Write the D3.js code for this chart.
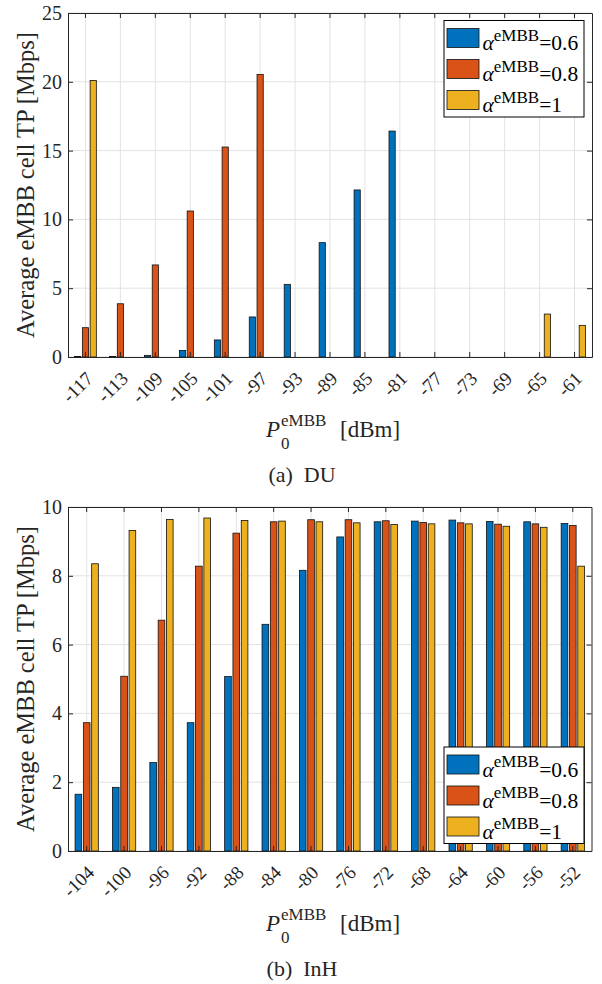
<!DOCTYPE html>
<html>
<head>
<meta charset="utf-8">
<script src="https://cdn.jsdelivr.net/npm/d3@7"></script>
<style>
  body { margin: 0; background: #fff; }
  #fig text { font-family: "Liberation Serif", "Times New Roman", Times, serif; fill: #262626; }
</style>
</head>
<body>
<svg id="fig" width="602" height="984"></svg>
<script>
// (a) DU
const duLevels = [-117, -113, -109, -105, -101, -97, -93, -89, -85, -81, -77, -73, -69, -65, -61];
const duAlpha06 = [0.03, 0.03, 0.12, 0.48, 1.24, 2.91, 5.28, 8.31, 12.14, 16.42, 0, 0, 0, 0, 0];
const duAlpha08 = [2.13, 3.87, 6.69, 10.61, 15.26, 20.54, 0, 0, 0, 0, 0, 0, 0, 0, 0];
const duAlpha1  = [20.1, 0, 0, 0, 0, 0, 0, 0, 0, 0, 0, 0, 0, 3.12, 2.30];
const duTicks = [0, 5, 10, 15, 20, 25];

// (b) InH
const inhLevels = [-104, -100, -96, -92, -88, -84, -80, -76, -72, -68, -64, -60, -56, -52];
const inhAlpha06 = [1.65, 1.85, 2.57, 3.73, 5.07, 6.59, 8.16, 9.13, 9.57, 9.59, 9.62, 9.58, 9.57, 9.52];
const inhAlpha08 = [3.73, 5.08, 6.71, 8.28, 9.24, 9.57, 9.63, 9.63, 9.60, 9.55, 9.54, 9.50, 9.51, 9.46];
const inhAlpha1  = [8.35, 9.32, 9.64, 9.68, 9.61, 9.59, 9.57, 9.54, 9.49, 9.51, 9.51, 9.44, 9.41, 8.28];
const inhTicks = [0, 2, 4, 6, 8, 10];

const alphaLabels = ["0.6", "0.8", "1"];
const colors = ["#0072BD", "#D95319", "#EDB120"];

const svg = d3.select("#fig");
const axisColor = "#262626";

function drawPanel(cfg) {
  const g = svg.append("g");
  const x = d3.scaleBand().domain(cfg.levels).range([cfg.left, cfg.right]);
  const step = x.step();
  // grouped bars like matlab: group width 2/3 of the slot, bar width 0.8
  const inner = d3.scaleBand().domain(d3.range(cfg.series.length))
    .range([-step / 3, step / 3]).paddingInner(0.2).paddingOuter(0.1);
  const y = d3.scaleLinear().domain([0, cfg.yMax]).range([cfg.bottom, cfg.top]);
  const cx = d => x(d) + x.bandwidth() / 2;

  // grid
  g.append("g").selectAll("line").data(cfg.levels).join("line")
    .attr("x1", cx).attr("x2", cx).attr("y1", cfg.top).attr("y2", cfg.bottom)
    .attr("stroke", "#e3e3e3").attr("stroke-width", 1);
  g.append("g").selectAll("line").data(cfg.yTicks).join("line")
    .attr("x1", cfg.left).attr("x2", cfg.right).attr("y1", d => y(d)).attr("y2", d => y(d))
    .attr("stroke", "#e3e3e3").attr("stroke-width", 1);

  // bars
  cfg.series.forEach((vals, i) => {
    const rows = vals.map((v, k) => ({ lvl: cfg.levels[k], v })).filter(d => d.v > 0);
    g.append("g").selectAll("rect").data(rows).join("rect")
      .attr("x", d => cx(d.lvl) + inner(i))
      .attr("width", inner.bandwidth())
      .attr("y", d => y(d.v))
      .attr("height", d => y(0) - y(d.v))
      .attr("fill", colors[i])
      .attr("stroke", "#111").attr("stroke-width", 0.8);
  });

  // axes (box with inward ticks)
  const styleAxis = a => a.attr("color", axisColor).attr("font-family", null).attr("font-size", null);
  g.append("g").attr("transform", `translate(0,${cfg.bottom})`)
    .call(d3.axisBottom(x).tickSize(-5).tickSizeOuter(0).tickPadding(0))
    .call(styleAxis)
    .call(a => a.selectAll("text")
      .attr("y", 0).attr("dy", "0.35em")
      .attr("text-anchor", "end")
      .attr("font-size", 19)
      .attr("transform", "translate(4,18) rotate(-45)"));
  g.append("g").attr("transform", `translate(0,${cfg.top})`)
    .call(d3.axisTop(x).tickSize(-5).tickSizeOuter(0).tickFormat(""))
    .call(styleAxis);
  g.append("g").attr("transform", `translate(${cfg.left},0)`)
    .call(d3.axisLeft(y).tickValues(cfg.yTicks).tickSize(-5).tickSizeOuter(0).tickPadding(6))
    .call(styleAxis)
    .call(a => a.selectAll("text").attr("font-size", 20));
  g.append("g").attr("transform", `translate(${cfg.right},0)`)
    .call(d3.axisRight(y).tickValues(cfg.yTicks).tickSize(-5).tickSizeOuter(0).tickFormat(""))
    .call(styleAxis);

  // y label
  g.append("text")
    .attr("transform", `translate(34,${(cfg.top + cfg.bottom) / 2}) rotate(-90)`)
    .attr("text-anchor", "middle")
    .attr("font-size", 24.5)
    .text("Average eMBB cell TP [Mbps]");

  // x label  P_0^eMBB [dBm]
  const xl = cfg.bottom + 80;
  g.append("text").attr("x", 266).attr("y", xl).attr("font-size", 23).attr("font-style", "italic").text("P");
  g.append("text").attr("x", 281).attr("y", xl - 11).attr("font-size", 17).text("eMBB");
  g.append("text").attr("x", 281).attr("y", xl + 12).attr("font-size", 17).text("0");
  g.append("text").attr("x", 340).attr("y", xl).attr("font-size", 23).text("[dBm]");

  // caption
  g.append("text").attr("x", 302).attr("y", cfg.bottom + 125)
    .attr("text-anchor", "middle").attr("font-size", 22)
    .text(cfg.caption);

  // legend
  const leg = g.append("g").attr("transform", `translate(444,${cfg.legendTop})`);
  leg.append("rect").attr("width", 140).attr("height", 96.5)
    .attr("fill", "#fff").attr("stroke", "#000").attr("stroke-width", 1);
  alphaLabels.forEach((lab, i) => {
    const row = leg.append("g").attr("transform", `translate(0,${8 + i * 31})`);
    row.append("rect").attr("x", 3).attr("width", 32).attr("height", 19)
      .attr("fill", colors[i]).attr("stroke", "#111").attr("stroke-width", 0.8);
    const t = row.append("text").attr("x", 38.5).attr("y", 21.5).attr("font-size", 21.5).style("fill", "#000");
    t.append("tspan").attr("font-style", "italic").text("\u03b1");
    t.append("tspan").attr("font-size", 17).attr("dy", -9.5).text("eMBB");
    t.append("tspan").attr("dy", 9.5).text("=" + lab);
  });
}

drawPanel({
  levels: duLevels, series: [duAlpha06, duAlpha08, duAlpha1],
  yMax: 25, yTicks: duTicks,
  left: 68, right: 592, top: 13, bottom: 357,
  legendTop: 20.5, caption: "(a)\u2002DU"
});

drawPanel({
  levels: inhLevels, series: [inhAlpha06, inhAlpha08, inhAlpha1],
  yMax: 10, yTicks: inhTicks,
  left: 68, right: 591.5, top: 507, bottom: 851,
  legendTop: 747, caption: "(b)\u2002InH"
});
</script>
</body>
</html>
